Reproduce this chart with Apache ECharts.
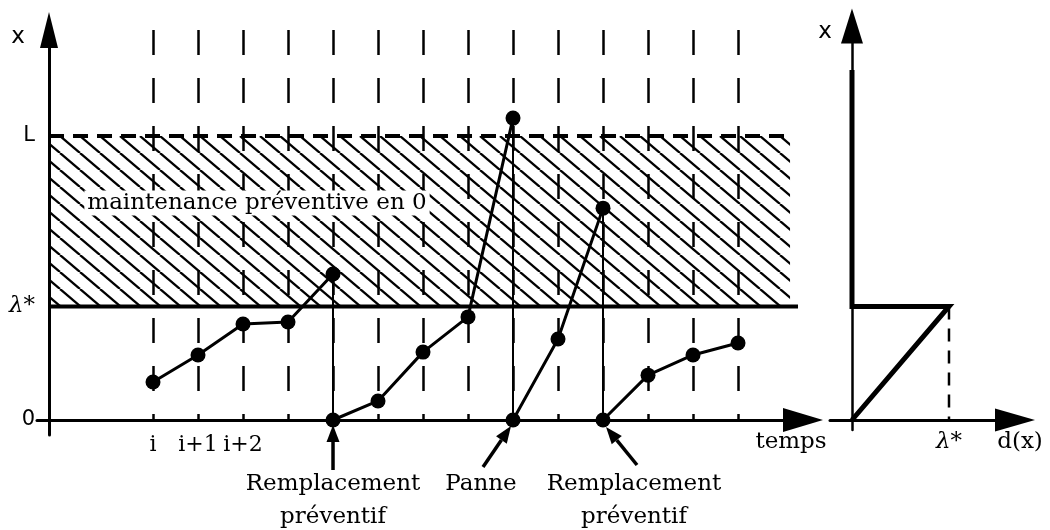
<!DOCTYPE html>
<html>
<head>
<meta charset="utf-8">
<script src="https://cdn.jsdelivr.net/npm/echarts@6/dist/echarts.min.js"></script>
<style>
  html, body { margin: 0; padding: 0; background: #fff; }
  #chart { width: 1050px; height: 530px; }
</style>
</head>
<body>
<div id="chart"></div>
<script>
// seuils
const L = 100
const lambdaStar = 40
// instants d'inspection i, i+1, ...
const instants = [0, 1, 2, 3, 4, 5, 6, 7, 8, 9, 10, 11, 12, 13]
const instantLabels = ['i', 'i+1', 'i+2']
// trajectoires de dégradation (instant, niveau x)
const cycle1 = [[0, 13.4], [1, 22.9], [2, 33.8], [3, 34.5], [4, 51.4]]
const cycle2 = [[4, 0], [5, 6.7], [6, 23.9], [7, 36.3], [8, 106.3]]
const cycle3 = [[8, 0], [9, 28.5], [10, 74.6]]
const cycle4 = [[10, 0], [11, 15.8], [12, 22.9], [13, 27.1]]
// remises à zéro
const resetInstants = [4, 8, 10]
const resetLevels = [51.4, 106.3, 74.6]
const resetNames = ['Remplacement\npréventif', 'Panne', 'Remplacement\npréventif']
// politique d(x) : points (d, x)
const policy = [[0, 123.2], [0, lambdaStar], [lambdaStar, lambdaStar], [0, 0]]

const serif = 'DejaVu Serif'
const sans = 'DejaVu Sans'
const black = '#000'

// bornes des axes (gauche : 45 px par pas, 2.84 px par unité de x)
const xMin = -2.578, xMax = 14.444, yMin = -5.282, yMax = 137.32
const yAxisPos = -2.311
const hatchEnd = 14.156, lambdaEnd = 14.333

function hatchPattern() {
  const c = document.createElement('canvas')
  c.width = 20
  c.height = 17
  const g = c.getContext('2d')
  g.strokeStyle = black
  g.lineWidth = 2.3
  for (const dx of [-20, 0, 20]) {
    g.beginPath()
    g.moveTo(dx, 0)
    g.lineTo(dx + 20, 17)
    g.stroke()
  }
  return c
}

const chart = echarts.init(document.getElementById('chart'))

const cycleSeries = [cycle1, cycle2, cycle3, cycle4].map(d => ({
  type: 'line',
  data: d,
  symbol: 'circle',
  symbolSize: 15,
  itemStyle: { color: black },
  lineStyle: { color: black, width: 3 },
  z: 5
}))

const lambdaRich = { l: { fontFamily: serif, fontStyle: 'italic', fontSize: 23, color: black } }

const option = {
  animation: false,
  backgroundColor: '#fff',
  grid: [
    { left: 37, top: 30, width: 766, height: 405, outerBoundsMode: 'none' },
    { left: 830, top: 26, width: 185, height: 404, outerBoundsMode: 'none' }
  ],
  xAxis: [
    {
      gridIndex: 0, type: 'value', min: xMin, max: xMax,
      axisLine: { onZero: true, symbol: ['none', 'triangle'], symbolSize: [24, 40], lineStyle: { color: black, width: 3 } },
      axisTick: { show: false },
      splitLine: { show: false },
      axisLabel: {
        customValues: [0, 1, 2],
        formatter: v => instantLabels[Math.round(v)],
        color: black, fontFamily: serif, fontSize: 22, margin: -1
      }
    },
    {
      gridIndex: 1, type: 'value', min: -9.072, max: 67.22,
      axisLine: { onZero: true, symbol: ['none', 'triangle'], symbolSize: [23, 40], lineStyle: { color: black, width: 3 } },
      axisTick: { show: false },
      splitLine: { show: false },
      axisLabel: {
        customValues: [lambdaStar],
        formatter: () => '{l|λ*}',
        rich: lambdaRich,
        margin: 1
      }
    }
  ],
  yAxis: [
    {
      gridIndex: 0, type: 'value', min: yMin, max: yMax, offset: -12,
      axisLine: { show: true, onZero: false, symbol: ['none', 'triangle'], symbolSize: [18, 36], lineStyle: { color: black, width: 3 } },
      axisTick: { show: false },
      splitLine: { show: false },
      axisLabel: {
        customValues: [0, lambdaStar, L],
        formatter: v => v === 0 ? '0' : v === L ? 'L' : '{l|λ*}',
        rich: lambdaRich,
        color: black, fontFamily: sans, fontSize: 21, margin: 14
      }
    },
    {
      gridIndex: 1, type: 'value', min: -3.521, max: 138.73,
      axisLine: { show: true, onZero: true, symbol: ['none', 'triangle'], symbolSize: [22, 35], lineStyle: { color: black, width: 2.5 } },
      axisTick: { show: false },
      splitLine: { show: false },
      axisLabel: { show: false }
    }
  ],
  series: [
    {
      // seuil λ* + zone hachurée
      type: 'line',
      data: [[yAxisPos, lambdaStar], [lambdaEnd, lambdaStar]],
      symbol: 'none',
      lineStyle: { color: black, width: 4 },
      z: 4,
      markArea: {
        silent: true,
        itemStyle: { color: { image: hatchPattern(), repeat: 'repeat' } },
        data: [[{ coord: [yAxisPos, L] }, { coord: [hatchEnd, lambdaStar] }]]
      }
    },
    {
      // seuil L
      type: 'line',
      data: [[yAxisPos, L], [hatchEnd, L]],
      symbol: 'none',
      lineStyle: { color: black, width: 4, type: [15, 9] },
      z: 4
    },
    {
      // prolongement de λ* vers d(x)
      type: 'line',
      clip: false,
      data: [[14.49, lambdaStar], [15.49, lambdaStar]],
      symbol: 'none',
      lineStyle: { color: black, width: 3, type: [15, 9] }
    },
    {
      // instants d'inspection
      type: 'lines',
      coordinateSystem: 'cartesian2d',
      data: instants.map(k => ({ coords: [[k, yMax], [k, 0]] })),
      lineStyle: { color: black, width: 2.5, type: [25, 23], opacity: 1 },
      z: 3
    },
    {
      // remises à zéro
      type: 'lines',
      coordinateSystem: 'cartesian2d',
      data: resetInstants.map((k, i) => ({ coords: [[k, resetLevels[i]], [k, 0]] })),
      lineStyle: { color: black, width: 2, opacity: 1 },
      z: 3
    },
    ...cycleSeries,
    {
      type: 'line',
      xAxisIndex: 1, yAxisIndex: 1,
      data: policy,
      symbol: 'none',
      lineStyle: { color: black, width: 5, join: 'miter', miterLimit: 10 }
    },
    {
      type: 'line',
      xAxisIndex: 1, yAxisIndex: 1,
      data: [[lambdaStar, lambdaStar], [lambdaStar, 0]],
      symbol: 'none',
      lineStyle: { color: black, width: 2.5, type: [13, 9] }
    }
  ]
}

chart.setOption(option)

function arrow(x1, y1, x2, y2) {
  const a = Math.atan2(y2 - y1, x2 - x1)
  const len = 17, half = 6.5
  const bx = x2 - len * Math.cos(a), by = y2 - len * Math.sin(a)
  return [
    { type: 'line', shape: { x1: x1, y1: y1, x2: bx, y2: by }, style: { stroke: black, lineWidth: 3.5 } },
    {
      type: 'polygon',
      shape: { points: [[x2, y2], [bx + half * Math.sin(a), by - half * Math.cos(a)], [bx - half * Math.sin(a), by + half * Math.cos(a)]] },
      style: { fill: black }
    }
  ]
}

function text(str, x, y, font, extra) {
  return {
    type: 'text', x: x, y: y, z: 20,
    style: Object.assign({ text: str, fill: black, font: font, align: 'center', verticalAlign: 'middle' }, extra || {})
  }
}

// décalages (px) des annotations par rapport au point de remise à zéro
const annot = [
  { tx: 0, tail: [0, 50], tip: [0, 5] },
  { tx: -32, tail: [-30, 47], tip: [-2, 6] },
  { tx: 31, tail: [34, 45], tip: [3, 7] }
]

const graphics = []
resetInstants.forEach((k, i) => {
  const p = chart.convertToPixel({ gridIndex: 0 }, [k, 0])
  const a = annot[i]
  graphics.push(...arrow(p[0] + a.tail[0], p[1] + a.tail[1], p[0] + a.tip[0], p[1] + a.tip[1]))
  graphics.push({
    type: 'text', x: p[0] + a.tx, y: p[1] + 48, z: 20,
    style: { text: resetNames[i], fill: black, font: '23px ' + serif, align: 'center', verticalAlign: 'top', lineHeight: 33 }
  })
})

graphics.push(text('x', 18, 37, '23px ' + sans))
graphics.push(text('x', 825, 32, '23px ' + sans))
graphics.push(text('temps', 791, 442, '23px ' + serif))
graphics.push(text('d(x)', 1020, 442, '23px ' + serif))
graphics.push(text('maintenance préventive en 0', 257, 203, '23px ' + serif, { backgroundColor: '#fff', padding: [1, 3] }))

chart.setOption({ graphic: graphics })
</script>
</body>
</html>
